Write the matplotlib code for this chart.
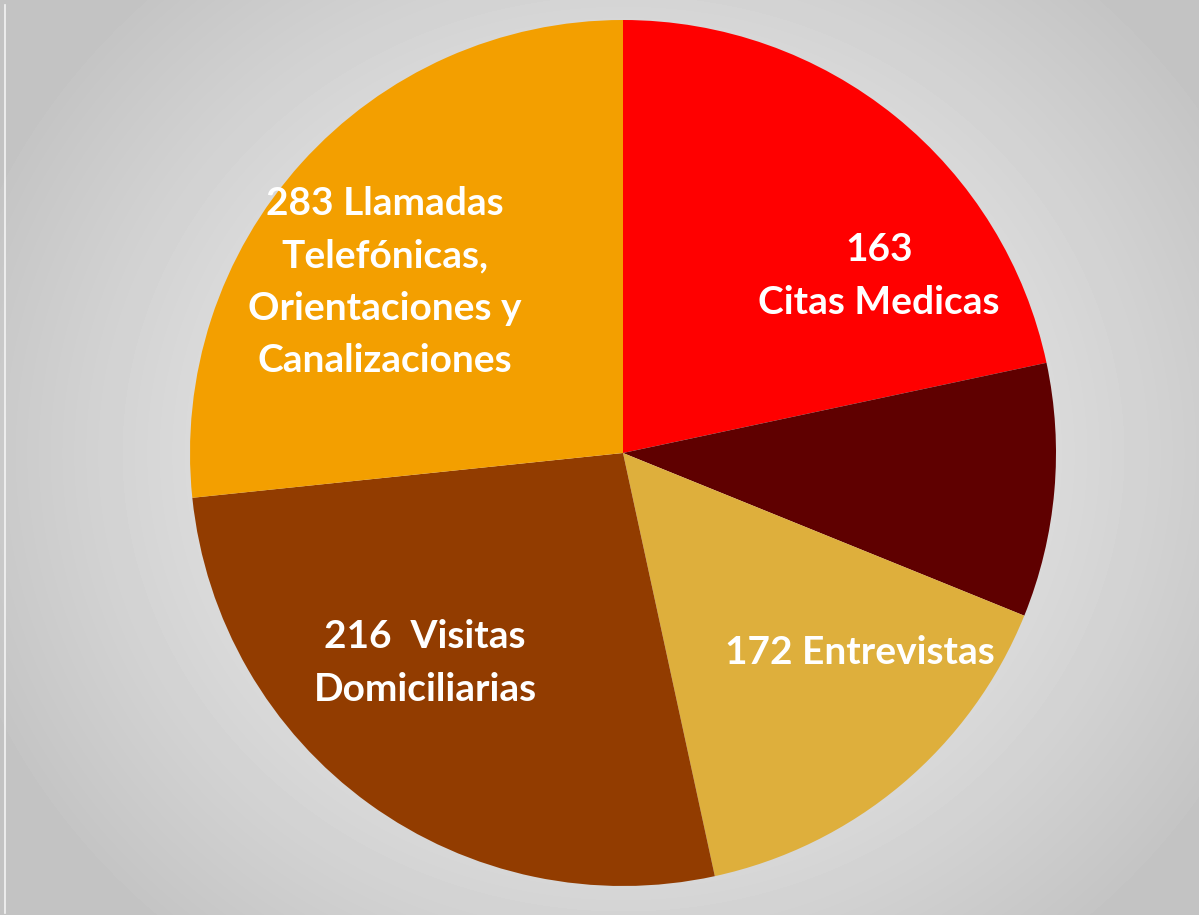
import numpy as np
import matplotlib
matplotlib.use("Agg")
import matplotlib.pyplot as plt

# Data (slice shares, in percent)
categories = ["Citas Medicas", "Otros", "Entrevistas", "Visitas Domiciliarias",
              "Llamadas Telefónicas"]
shares = [21.66, 9.47, 15.47, 26.75, 26.65]
labels = ["163\nCitas Medicas", "", "172 Entrevistas",
          "216  Visitas\nDomiciliarias",
          "283 Llamadas\nTelefónicas,\nOrientaciones y\nCanalizaciones"]
colors = ["#FF0000", "#5F0000", "#DEAF3C", "#923C00", "#F39F00"]
label_pos = [(0.591, 0.409), None, (0.547, -0.460), (-0.457, -0.485), (-0.550, 0.395)]

W, H = 1199, 915
fig = plt.figure(figsize=(W / 100, H / 100), dpi=100)

# radial gradient background
bg = fig.add_axes([0, 0, 1, 1])
yy, xx = np.mgrid[0:H, 0:W]
cx, cy = 623, 453
d = np.sqrt(((xx - cx) / 700.0) ** 2 + ((yy - cy) / 640.0) ** 2)
d = np.clip(d, 0, 1)
val = 0.955 - (0.955 - 0.765) * d ** 1.3
bg.imshow(val, cmap="gray", vmin=0, vmax=1, extent=[0, W, H, 0], aspect="auto",
          interpolation="bilinear")
bg.plot([5, 5], [5, H - 2], color="#f4f4f4", lw=1.2)
bg.set_xlim(0, W)
bg.set_ylim(H, 0)
bg.axis("off")

r = 433
ax = fig.add_axes([(cx - r) / W, (H - cy - r) / H, 2 * r / W, 2 * r / H])
ax.pie(shares, colors=colors, startangle=90, counterclock=False, radius=1,
       wedgeprops=dict(linewidth=0))
ax.set_xlim(-1, 1)
ax.set_ylim(-1, 1)
ax.set_aspect("auto")
ax.axis("off")

for lab, pos in zip(labels, label_pos):
    if pos is None or not lab:
        continue
    ax.text(pos[0], pos[1], lab, ha="center", va="center", color="white",
            fontsize=28, fontweight="bold", family="Lato", linespacing=1.6)

fig.savefig("out.png", dpi=100)
